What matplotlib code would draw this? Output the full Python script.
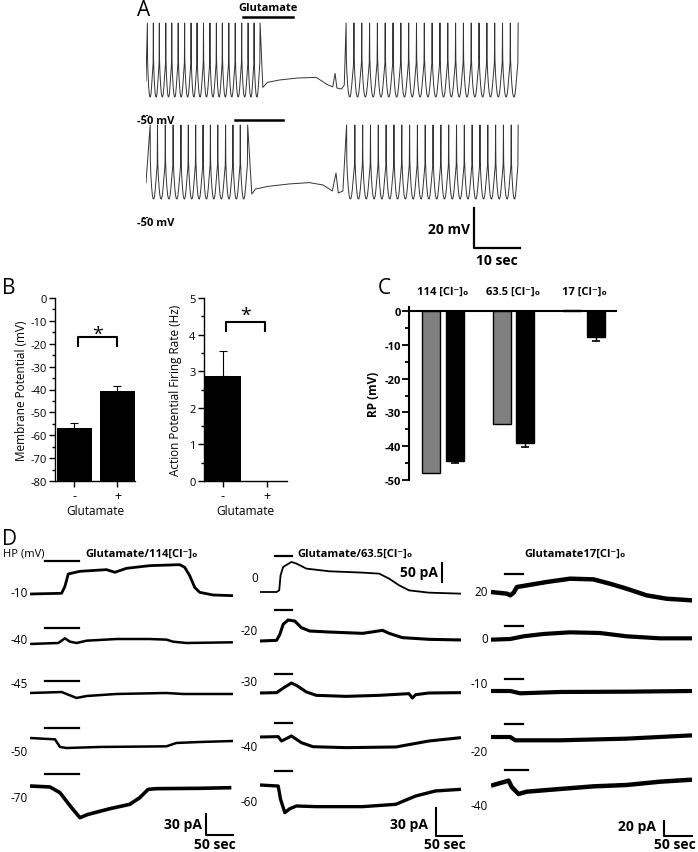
import matplotlib
matplotlib.use("Agg")
import matplotlib.pyplot as plt
from matplotlib.ticker import MultipleLocator

plt.rcParams['font.family'] = ['Open Sans', 'DejaVu Sans']
plt.rcParams['axes.unicode_minus'] = False

W, H = 698, 853

# ---------------- data ----------------
# Panel A: spike times (s) and plateau (s, mV) for the two current-clamp traces
A_top_pre = [0.3, 1.6, 2.9, 4.3, 5.6, 7.0, 8.4, 9.8, 11.1, 12.5, 13.9, 15.3,
             16.6, 18.0, 19.4, 20.8, 22.2, 23.5, 24.8]
A_top_plat_t = [25.4, 26.4, 29.0, 33.0, 37.0, 39.5, 40.6, 41.1, 41.5, 42.5, 43.1]
A_top_plat_v = [-45.2, -42.7, -41.5, -40.5, -40.2, -43.9, -44.9, -38.2, -45.5, -46.0, -44.0]
A_top_post = [43.5, 45.2, 46.9, 48.6, 50.3, 52.0, 53.7, 55.4, 57.1, 58.8, 60.5,
              62.2, 63.9, 65.6, 67.3, 69.0, 70.7, 72.4, 74.1, 75.8, 77.5, 79.2, 80.9]
A_top_glu = [21.0, 32.0]

A_bot_pre = [0.9, 2.5, 4.2, 5.9, 7.6, 9.2, 10.8, 12.4, 14.0, 15.6, 17.3, 18.9,
             20.5, 22.1]
A_bot_plat_t = [23.0, 23.8, 26.5, 31.0, 35.5, 38.5, 40.5, 41.3, 41.8, 42.8]
A_bot_plat_v = [-47.5, -45.0, -43.7, -42.5, -41.8, -43.0, -46.0, -37.0, -47.0, -46.0]
A_bot_post = [43.6, 45.4, 47.1, 48.8, 50.5, 52.2, 53.9, 55.6, 57.3, 59.0, 60.7,
              62.4, 64.1, 65.8, 67.5, 69.2, 70.9, 72.6, 74.3, 76.0, 77.7, 79.4, 80.9]
A_bot_glu = [19.3, 29.8]

# Panel B
B_labels = ['-', '+']
B_mp = [-57.0, -40.8]
B_mp_err = [2.4, 2.2]
B_rate = [2.86, 0.0]
B_rate_err = [0.68, 0.0]

# Panel C
C_groups = ['114 [Cl⁻]ₒ', '63.5 [Cl⁻]ₒ', '17 [Cl⁻]ₒ']
C_grey = [-48.0, -33.4, 0.3]
C_black = [-44.3, -39.0, -7.7]
C_black_err = [0.8, 1.3, 1.1]

# Panel D: voltage-clamp traces, time (s) and current (pA, relative to start)
D1_hp = ['-10', '-40', '-45', '-50', '-70']
D1_t = [
    [0, 58.6, 64.8, 70.9, 92.5, 141.9, 157.3, 178.9, 222.1, 277.6, 286.9, 296.1, 305.4, 314.6, 339.3, 376.4],
    [0, 52.5, 64.8, 74.1, 86.4, 104.9, 160.4, 222.1, 253.0, 265.3, 290.0, 376.4],
    [0, 58.6, 71.0, 86.4, 104.9, 160.4, 253.0, 283.9, 376.4],
    [0, 46.3, 55.5, 67.9, 129.6, 253.0, 271.5, 314.6, 376.4],
    [0, 37.0, 55.5, 77.1, 92.5, 108.0, 148.0, 185.0, 203.5, 219.0, 234.4, 314.6, 373.3],
]
D1_i = [
    [0, 1, 11, 28.6, 32.4, 34.8, 31.0, 36.7, 40.5, 41.9, 38.1, 26.2, 9.5, 2.4, -1.4, -2.4],
    [-1.4, 0, 6.7, 1.9, 0, 3.3, 5.7, 5.7, 4.8, 1.9, 0, 1.0],
    [0, 1.4, -2.4, -7.1, -4.3, -1.4, 0, -1.4, -1.4],
    [0, -1.9, -12.8, -14.3, -12.8, -11.9, -7.1, -5.7, -4.3],
    [0, -1.4, -9.5, -31.0, -45.2, -40.5, -32.4, -26.2, -16.7, -4.8, -3.8, -3.3, -2.4],
]
D1_glu = [27.8, 91.3]

D2_hp = ['0', '-20', '-30', '-40', '-60']
D2_t = [
    [0, 30.9, 35.8, 38.3, 43.2, 58.6, 67.9, 86.4, 129.6, 191.3, 222.1, 240.6, 259.2, 277.6, 314.6, 374.5],
    [0, 30.9, 37.0, 43.2, 52.5, 64.8, 77.1, 92.5, 129.6, 191.3, 228.3, 240.6, 265.3, 314.6, 374.5],
    [0, 30.9, 46.3, 58.6, 67.9, 86.4, 104.9, 160.4, 222.1, 277.6, 283.8, 290.0, 314.6, 374.5],
    [0, 33.9, 40.1, 46.3, 58.6, 77.1, 98.7, 160.4, 253.0, 314.6, 374.5],
    [0, 33.9, 38.3, 46.3, 55.5, 67.9, 104.9, 191.3, 253.0, 290.0, 327.0, 374.5],
]
D2_i = [
    [0, 0, 4.5, 45.5, 68.3, 81.9, 77.4, 63.7, 56.4, 52.8, 50.0, 36.4, 18.2, 4.5, -1.8, -4.5],
    [0, 0.7, 7.1, 17.9, 22.5, 21.4, 14.3, 10.7, 9.6, 8.2, 11.4, 8.2, 3.6, 1.8, 1.1],
    [0, 0.4, 6.4, 10.7, 8.2, 1.1, -2.5, -3.6, -2.5, -0.7, -5.4, -1.8, 0, 0.4],
    [0, 0.4, -4.3, -2.5, 1.1, -6.1, -10.4, -11.4, -10.7, -4.3, -0.7],
    [0, -1.1, -15.4, -29.6, -25.4, -22.5, -23.2, -23.2, -20.7, -11.8, -6.4, -4.6],
]
D2_glu = [27.8, 59.9]

D3_hp = ['20', '0', '-10', '-20', '-40']
D3_t = [
    [0, 29.6, 35.8, 42.0, 48.1, 66.6, 103.7, 146.8, 190.0, 220.8, 251.7, 288.7, 325.7, 373.2],
    [0, 35.8, 60.5, 97.5, 146.8, 202.4, 251.7, 313.4, 373.2],
    [0, 35.8, 54.3, 128.3, 251.7, 373.2],
    [0, 35.8, 45.0, 128.3, 251.7, 373.2],
    [0, 32.7, 38.9, 51.2, 66.6, 128.3, 190.0, 251.7, 313.4, 373.2],
]
D3_i = [
    [1.3, -0.9, -3.1, 0.4, 8.0, 10.2, 14.7, 19.1, 18.2, 12.4, 5.8, -3.1, -7.6, -9.8],
    [-0.9, 0, 3.6, 6.7, 8.9, 8.0, 3.6, 0.9, 0.9],
    [0, 0, -3.1, -1.3, -0.9, 0],
    [0, 0, -4.4, -4.4, -2.2, 2.2],
    [-0.9, 5.8, -3.1, -12.0, -8.9, -5.3, -1.8, 0, 4.4, 7.1],
]
D3_glu = [26.5, 59.2]

# ---------------- helpers ----------------
fig = plt.figure(figsize=(W / 100, H / 100), dpi=100)


def px_axes(x0, y0, x1, y1):
    return fig.add_axes([x0 / W, 1 - y1 / H, (x1 - x0) / W, (y1 - y0) / H])


def ftext(x, y, s, **kw):
    kw.setdefault('va', 'center')
    fig.text(x / W, 1 - y / H, s, **kw)


# shape of one interspike interval: phase within interval, mV
ISI_PHASE = [0.03, 0.10, 0.20, 0.30, 0.40, 0.50, 0.60, 0.70, 0.80, 0.90, 0.96]
ISI_V = [-31, -38, -44, -48, -49.8, -50, -48.5, -45, -40.5, -36, -33]
PEAK = -13


def spike_train(times):
    t, v = [], []
    for a, b in zip(times[:-1], times[1:]):
        t.append(a)
        v.append(PEAK)
        for ph, vv in zip(ISI_PHASE, ISI_V):
            t.append(a + ph * (b - a))
            v.append(vv)
    t.append(times[-1])
    v.append(PEAK)
    return t, v


def full_trace(pre, pt, pv, post):
    t1, v1 = spike_train(pre)
    t2, v2 = spike_train(post)
    return [0.0] + t1 + pt + t2, [-42.0] + v1 + pv + v2


# ---------------- panel A ----------------
axA = px_axes(146, 15, 520, 255)
axA.set_xlim(0, 81.3)
axA.set_ylim(-128.5, -8.5)
axA.axis('off')
off_bot = -51
t, v = full_trace(A_top_pre, A_top_plat_t, A_top_plat_v, A_top_post)
axA.plot(t, v, color='#333333', lw=0.7)
t, v = full_trace(A_bot_pre, A_bot_plat_t, A_bot_plat_v, A_bot_post)
axA.plot(t, [x + off_bot for x in v], color='#333333', lw=0.7)
axA.plot(A_top_glu, [-10, -10], color='black', lw=1.8, clip_on=False)
axA.plot(A_bot_glu, [-61.5, -61.5], color='black', lw=1.8, clip_on=False)
axA.text(sum(A_top_glu) / 2, -5, 'Glutamate', ha='center', va='center',
         fontsize=8, fontweight='bold')
# scale bar 20 mV / 10 s
axA.plot([71.3, 71.3, 81.3], [-105.5, -125.5, -125.5], color='black', lw=1.6,
         clip_on=False)
ftext(470, 230, '20 mV', ha='right', fontsize=10, fontweight='bold')
ftext(497, 261, '10 sec', ha='center', fontsize=10, fontweight='bold')
ftext(156, 122, '-50 mV', ha='center', fontsize=8, fontweight='bold')
ftext(156, 224, '-50 mV', ha='center', fontsize=8, fontweight='bold')
for yy in (116, 218):
    fig.add_artist(plt.Line2D([142 / W, 149 / W], [1 - yy / H, 1 - yy / H],
                              color='black', lw=0.8, ls=(0, (2, 1))))
ftext(137, 11, 'A', ha='left', fontsize=15)

# ---------------- panel B ----------------
ftext(2, 288, 'B', ha='left', fontsize=15)


def style_b(ax):
    for s in ('top', 'right'):
        ax.spines[s].set_visible(False)
    for s in ('left', 'bottom'):
        ax.spines[s].set_linewidth(1.0)
    ax.tick_params(axis='both', labelsize=8, length=4, width=1, pad=2)
    ax.tick_params(axis='y', which='minor', length=2.5, width=1)
    ax.set_xticks([0, 1])
    ax.set_xticklabels(B_labels, fontsize=9)
    ax.set_xlabel('Glutamate', fontsize=8.5, labelpad=1)


axB1 = px_axes(55, 299, 135, 482)
axB1.bar([0, 1], [v + 80 for v in B_mp], bottom=-80, width=0.81, color='black')
axB1.errorbar([0, 1], B_mp, yerr=[[0, 0], B_mp_err], fmt='none', ecolor='black',
              elinewidth=0.8, capsize=3, capthick=0.8)
axB1.set_xlim(-0.453, 1.407)
axB1.set_ylim(-80, 0)
axB1.yaxis.set_major_locator(MultipleLocator(10))
axB1.yaxis.set_minor_locator(MultipleLocator(5))
style_b(axB1)
axB1.set_ylabel('Membrane Potential (mV)', fontsize=8.5, labelpad=2)
axB1.plot([0.08, 0.08, 0.99, 0.99], [-21, -17, -17, -21], color='black', lw=1.5)
axB1.text(0.54, -15.5, '*', ha='center', va='center', fontsize=14)

axB2 = px_axes(204, 299, 287, 482)
axB2.bar([0, 1], B_rate, width=0.82, color='black')
axB2.errorbar([0], B_rate[:1], yerr=[[0], B_rate_err[:1]], fmt='none',
              ecolor='black', elinewidth=0.8, capsize=3, capthick=0.8)
axB2.set_xlim(-0.43, 1.45)
axB2.set_ylim(0, 5)
axB2.yaxis.set_major_locator(MultipleLocator(1))
axB2.yaxis.set_minor_locator(MultipleLocator(0.5))
style_b(axB2)
axB2.set_ylabel('Action Potential Firing Rate (Hz)', fontsize=8.5, labelpad=5)
axB2.plot([0.07, 0.07, 0.95, 0.95], [4.1, 4.34, 4.34, 4.1], color='black', lw=1.5)
axB2.text(0.51, 4.55, '*', ha='center', va='center', fontsize=14)

# ---------------- panel C ----------------
ftext(378, 289, 'C', ha='left', fontsize=15)
axC = px_axes(409, 308, 617, 481)
xs = list(range(len(C_groups)))
axC.bar([x - 0.167 for x in xs], C_grey, width=0.255, color='#808080',
        edgecolor='black', lw=1)
axC.bar([x + 0.167 for x in xs], C_black, width=0.255, color='black',
        edgecolor='black', lw=1)
axC.errorbar([x + 0.167 for x in xs], C_black, yerr=[C_black_err, [0] * 3],
             fmt='none', ecolor='black', elinewidth=1, capsize=3, capthick=1.2)
axC.axhline(0, color='black', lw=1.5)
axC.set_xlim(-0.482, 2.468)
axC.set_ylim(-50, 1.2)
for s in ('top', 'right', 'bottom'):
    axC.spines[s].set_visible(False)
axC.spines['left'].set_linewidth(1.5)
axC.set_xticks([])
axC.yaxis.set_major_locator(MultipleLocator(10))
axC.yaxis.set_minor_locator(MultipleLocator(5))
axC.tick_params(axis='y', which='major', length=5, width=1.3, labelsize=8, pad=1)
axC.tick_params(axis='y', which='minor', length=3, width=1.3)
for lab in axC.get_yticklabels():
    lab.set_fontweight('bold')
axC.set_ylabel('RP (mV)', fontsize=8.5, fontweight='bold', labelpad=3)
for x, g in zip(xs, C_groups):
    axC.text(x, 1.09, g, transform=axC.get_xaxis_transform(), ha='center',
             va='center', fontsize=8, fontweight='bold')

# ---------------- panel D ----------------
ftext(2, 540, 'D', ha='left', fontsize=15)
ftext(3, 554, 'HP (mV)', ha='left', fontsize=8)
ftext(142, 554, 'Glutamate/114[Cl⁻]ₒ', ha='center', fontsize=8, fontweight='bold')
ftext(355, 554, 'Glutamate/63.5[Cl⁻]ₒ', ha='center', fontsize=8, fontweight='bold')
ftext(575, 554, 'Glutamate17[Cl⁻]ₒ', ha='center', fontsize=8, fontweight='bold')

# column layout: x start/end px, time span, px per pA, baselines px, label pos
cols = [
    dict(t=D1_t, i=D1_i, hp=D1_hp, glu=D1_glu, x0=30, x1=233, span=376.4,
         ppa=[0.7] * 5, base=[595, 644, 694, 739, 787],
         bar=[47.6, 21.4, 17.0, 14.3, 16.7], lw=[2.0, 1.8, 1.8, 1.8, 2.6],
         lab_x=28, lab_y=[594, 641, 685, 753, 799]),
    dict(t=D2_t, i=D2_i, hp=D2_hp, glu=D2_glu, x0=260, x1=462, span=376.4,
         ppa=[0.367, 0.933, 0.933, 0.933, 0.933], base=[593, 642, 694, 738, 786],
         bar=[99.0, 32.8, 20.0, 14.6, 15.0], lw=[1.3, 2.2, 2.2, 2.2, 2.4],
         lab_x=258, lab_y=[578, 632, 683, 748, 803]),
    dict(t=D3_t, i=D3_i, hp=D3_hp, glu=D3_glu, x0=491, x1=692, span=373.2,
         ppa=[0.75] * 5, base=[594, 640, 692, 738, 786],
         bar=[25.8, 17.8, 15.5, 17.8, 20.4], lw=[3.2, 3.0, 3.0, 3.0, 3.2],
         lab_x=488, lab_y=[593, 640, 685, 753, 807]),
]
trace_axes = []
for c in cols:
    row = []
    for k in range(5):
        b, p = c['base'][k], c['ppa'][k]
        ax = px_axes(c['x0'], b - 60, c['x1'], b + 60)
        ax.set_xlim(0, c['span'])
        ax.set_ylim(-60 / p, 60 / p)
        ax.axis('off')
        ax.plot(c['t'][k], c['i'][k], color='black', lw=c['lw'][k],
                solid_capstyle='butt')
        g0, g1 = c['glu']
        if c is cols[2] and k == 4:
            g1 = 68.5
        ax.plot([g0, g1], [c['bar'][k]] * 2, color='black', lw=1.6, clip_on=False)
        ftext(c['lab_x'], c['lab_y'][k], c['hp'][k], ha='right', fontsize=8.5)
        row.append(ax)
    trace_axes.append(row)

# scale bars
ax = trace_axes[0][4]
ax.plot([326, 326, 376], [-40.4, -70.4, -70.4], color='black', lw=1.5, clip_on=False)
ftext(202, 825, '30 pA', ha='right', fontsize=10, fontweight='bold')
ftext(215, 845, '50 sec', ha='center', fontsize=10, fontweight='bold')
ax = trace_axes[1][4]
ax.plot([327.6, 327.6, 376], [-25, -55, -55], color='black', lw=1.5, clip_on=False)
ftext(428, 825, '30 pA', ha='right', fontsize=10, fontweight='bold')
ftext(445, 845, '50 sec', ha='center', fontsize=10, fontweight='bold')
ax = trace_axes[1][0]
ax.plot([338.8, 338.8], [28, 78], color='black', lw=1.5, clip_on=False)
ftext(438, 573, '50 pA', ha='right', fontsize=10, fontweight='bold')
ax = trace_axes[2][4]
ax.plot([321, 321, 373.2], [-48, -68, -68], color='black', lw=1.5, clip_on=False)
ftext(656, 827, '20 pA', ha='right', fontsize=10, fontweight='bold')
ftext(675, 845, '50 sec', ha='center', fontsize=10, fontweight='bold')

fig.savefig('out.png', dpi=100)
